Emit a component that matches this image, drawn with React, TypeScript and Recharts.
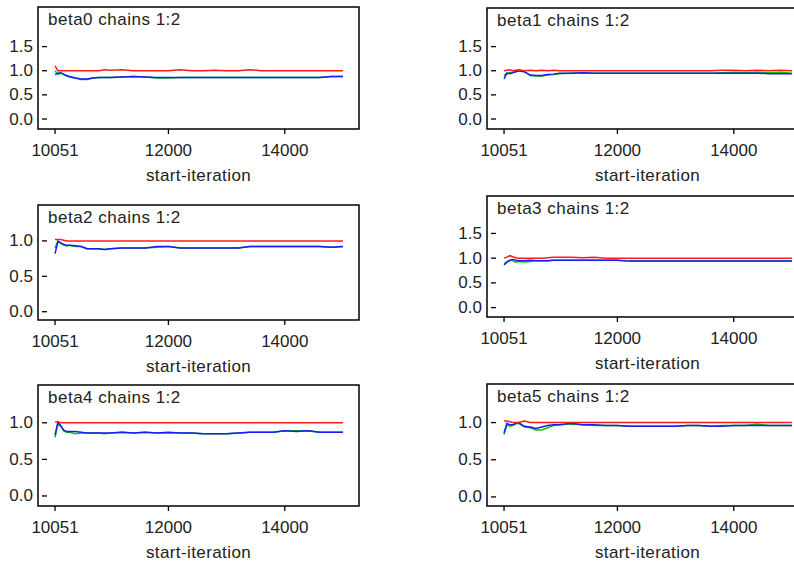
import React from "react";
import { LineChart, Line, XAxis, YAxis, ReferenceArea } from "recharts";

//#region Data

const iterations = [
  10051, 10100, 10150, 10200, 10250, 10300, 10400, 10500, 10600, 10700, 10800, 10900, 11000, 11200, 11400, 11600, 11800,
  12000, 12200, 12400, 12600, 12800, 13000, 13200, 13400, 13600, 13800, 14000, 14200, 14400, 14600, 14800, 15000,
];

const xTicks = [10051, 12000, 14000];
const yTicksTall = [0, 0.5, 1, 1.5];
const yTicksShort = [0, 0.5, 1];

const beta0Red = [1.1, 1.0, 1.0, 1.0, 1.0, 1.0, 1.0, 1.0, 1.0, 1.0, 1.0, 1.02, 1.01, 1.02, 1.0, 1.0, 1.0, 1.0, 1.02, 1.0, 1.0, 1.01, 1.0, 1.0, 1.02, 1.0, 1.0, 1.0, 1.0, 1.0, 1.0, 1.0, 1.0];
const beta0Green = [1.0, 0.92, 0.95, 0.92, 0.89, 0.87, 0.85, 0.82, 0.82, 0.85, 0.86, 0.86, 0.86, 0.87, 0.88, 0.87, 0.85, 0.85, 0.86, 0.86, 0.86, 0.86, 0.86, 0.86, 0.86, 0.86, 0.86, 0.86, 0.86, 0.86, 0.86, 0.88, 0.88];
const beta0Blue = [0.92, 0.95, 0.96, 0.93, 0.9, 0.88, 0.85, 0.83, 0.83, 0.85, 0.86, 0.86, 0.86, 0.87, 0.88, 0.87, 0.86, 0.86, 0.86, 0.86, 0.86, 0.86, 0.86, 0.86, 0.86, 0.86, 0.86, 0.86, 0.86, 0.86, 0.86, 0.88, 0.88];

const beta1Red = [1.0, 1.01, 1.02, 1.0, 1.01, 1.02, 1.0, 1.01, 1.0, 1.01, 1.0, 1.01, 1.0, 1.0, 1.0, 1.0, 1.0, 1.0, 1.0, 1.0, 1.0, 1.0, 1.0, 1.0, 1.0, 1.0, 1.01, 1.01, 1.0, 1.01, 1.0, 1.01, 1.0];
const beta1Green = [0.9, 0.95, 0.96, 0.97, 0.98, 1.0, 0.98, 0.9, 0.89, 0.89, 0.91, 0.92, 0.94, 0.95, 0.96, 0.95, 0.95, 0.95, 0.95, 0.95, 0.95, 0.95, 0.95, 0.95, 0.95, 0.95, 0.96, 0.97, 0.96, 0.97, 0.96, 0.97, 0.95];
const beta1Blue = [0.83, 0.95, 0.94, 0.96, 0.98, 1.0, 0.98, 0.91, 0.9, 0.9, 0.92, 0.93, 0.95, 0.95, 0.96, 0.95, 0.95, 0.95, 0.95, 0.95, 0.95, 0.95, 0.95, 0.95, 0.95, 0.95, 0.95, 0.95, 0.95, 0.95, 0.94, 0.94, 0.94];

const beta2Red = [1.02, 1.02, 1.02, 1.01, 1.0, 1.0, 1.0, 1.0, 1.0, 1.0, 1.0, 1.0, 1.0, 1.0, 1.0, 1.0, 1.0, 1.0, 1.0, 1.0, 1.0, 1.0, 1.0, 1.0, 1.0, 1.0, 1.0, 1.0, 1.0, 1.0, 1.0, 1.0, 1.0];
const beta2Green = [0.9, 1.0, 0.97, 0.94, 0.93, 0.94, 0.92, 0.92, 0.89, 0.89, 0.89, 0.88, 0.89, 0.9, 0.9, 0.9, 0.91, 0.92, 0.9, 0.9, 0.9, 0.9, 0.9, 0.9, 0.92, 0.92, 0.92, 0.92, 0.92, 0.92, 0.92, 0.91, 0.92];
const beta2Blue = [0.82, 0.99, 0.97, 0.95, 0.94, 0.94, 0.93, 0.92, 0.89, 0.89, 0.89, 0.88, 0.89, 0.9, 0.9, 0.9, 0.92, 0.92, 0.9, 0.9, 0.9, 0.9, 0.9, 0.9, 0.92, 0.92, 0.92, 0.92, 0.92, 0.92, 0.92, 0.91, 0.92];

const beta3Red = [1.0, 1.02, 1.05, 1.03, 1.01, 1.0, 1.0, 1.0, 1.0, 1.0, 1.01, 1.02, 1.02, 1.02, 1.01, 1.02, 1.0, 1.0, 1.0, 1.0, 1.0, 1.0, 1.0, 1.0, 1.0, 1.0, 1.0, 1.0, 1.0, 1.0, 1.0, 1.0, 1.0];
const beta3Green = [0.88, 0.93, 0.96, 0.95, 0.92, 0.93, 0.92, 0.93, 0.95, 0.95, 0.95, 0.96, 0.96, 0.96, 0.96, 0.96, 0.96, 0.96, 0.94, 0.94, 0.94, 0.94, 0.94, 0.94, 0.94, 0.94, 0.94, 0.94, 0.94, 0.94, 0.94, 0.94, 0.94];
const beta3Blue = [0.86, 0.92, 0.95, 0.97, 0.96, 0.95, 0.95, 0.96, 0.95, 0.95, 0.95, 0.96, 0.96, 0.96, 0.96, 0.96, 0.96, 0.96, 0.94, 0.94, 0.94, 0.94, 0.94, 0.94, 0.94, 0.94, 0.94, 0.94, 0.94, 0.94, 0.94, 0.94, 0.94];

const beta4Red = [1.01, 1.01, 1.0, 1.0, 1.0, 1.0, 1.0, 1.0, 1.0, 1.0, 1.0, 1.0, 1.0, 1.0, 1.0, 1.0, 1.0, 1.0, 1.0, 1.0, 1.0, 1.0, 1.0, 1.0, 1.0, 1.0, 1.0, 1.0, 1.0, 1.0, 1.0, 1.0, 1.0];
const beta4Green = [0.8, 0.98, 0.95, 0.89, 0.87, 0.87, 0.85, 0.86, 0.86, 0.86, 0.86, 0.85, 0.86, 0.87, 0.86, 0.87, 0.86, 0.86, 0.86, 0.86, 0.85, 0.85, 0.85, 0.86, 0.87, 0.87, 0.87, 0.89, 0.89, 0.89, 0.87, 0.87, 0.87];
const beta4Blue = [0.83, 1.01, 0.96, 0.9, 0.88, 0.88, 0.88, 0.87, 0.86, 0.86, 0.86, 0.86, 0.86, 0.87, 0.86, 0.87, 0.86, 0.87, 0.86, 0.86, 0.85, 0.85, 0.85, 0.86, 0.87, 0.87, 0.87, 0.89, 0.88, 0.89, 0.87, 0.87, 0.87];

const beta5Red = [1.02, 1.02, 1.01, 1.0, 1.0, 1.0, 1.02, 1.0, 1.0, 1.0, 1.0, 1.0, 1.0, 1.0, 1.0, 1.0, 1.0, 1.0, 1.0, 1.0, 1.0, 1.0, 1.0, 1.0, 1.0, 1.0, 1.0, 1.0, 1.0, 1.0, 1.0, 1.0, 1.0];
const beta5Green = [0.84, 0.97, 0.95, 0.96, 0.98, 0.99, 0.94, 0.93, 0.9, 0.9, 0.93, 0.96, 0.97, 0.98, 0.97, 0.96, 0.96, 0.96, 0.95, 0.95, 0.95, 0.95, 0.95, 0.96, 0.96, 0.95, 0.96, 0.96, 0.96, 0.98, 0.96, 0.96, 0.96];
const beta5Blue = [0.86, 0.99, 0.97, 0.97, 0.99, 1.0, 0.95, 0.94, 0.92, 0.94, 0.96, 0.97, 0.97, 0.99, 0.97, 0.97, 0.96, 0.96, 0.95, 0.95, 0.95, 0.95, 0.95, 0.96, 0.96, 0.95, 0.95, 0.96, 0.96, 0.96, 0.96, 0.96, 0.96];

//#endregion

//#region Layout

const FONT = "Arial, 'Liberation Sans', sans-serif";
const TEXT = "#222";
const Y_AXIS_W = 38;
const PLOT_W = 321;
const X_AXIS_H = 61;
const PAD = 2;
const X_DOMAIN: [number, number] = [9758, 15276];

type PanelProps = {
  title: string;
  boxLeft: number;
  boxTop: number;
  plotH: number;
  yDomain: [number, number];
  yTicks: number[];
  red: number[];
  green: number[];
  blue: number[];
};

const panels: PanelProps[] = [
  { title: "beta0 chains 1:2", boxLeft: 38, boxTop: 7, plotH: 122, yDomain: [-0.207, 2.32], yTicks: yTicksTall, red: beta0Red, green: beta0Green, blue: beta0Blue },
  { title: "beta1 chains 1:2", boxLeft: 487, boxTop: 8, plotH: 121, yDomain: [-0.207, 2.3], yTicks: yTicksTall, red: beta1Red, green: beta1Green, blue: beta1Blue },
  { title: "beta2 chains 1:2", boxLeft: 38, boxTop: 205, plotH: 115, yDomain: [-0.117, 1.507], yTicks: yTicksShort, red: beta2Red, green: beta2Green, blue: beta2Blue },
  { title: "beta3 chains 1:2", boxLeft: 487, boxTop: 196, plotH: 121, yDomain: [-0.19, 2.257], yTicks: yTicksTall, red: beta3Red, green: beta3Green, blue: beta3Blue },
  { title: "beta4 chains 1:2", boxLeft: 38, boxTop: 385, plotH: 121, yDomain: [-0.137, 1.516], yTicks: yTicksShort, red: beta4Red, green: beta4Green, blue: beta4Blue },
  { title: "beta5 chains 1:2", boxLeft: 487, boxTop: 384, plotH: 122, yDomain: [-0.122, 1.519], yTicks: yTicksShort, red: beta5Red, green: beta5Green, blue: beta5Blue },
];

//#endregion

// y ticks sit just inside the frame, labels to the left of it
const YTick = (props: any) => {
  const { y, payload } = props;
  return (
    <g>
      <text x={Y_AXIS_W - 5} y={y} textAnchor="end" dominantBaseline="central" fill={TEXT} fontSize={17} fontFamily={FONT}>
        {Number(payload.value).toFixed(1)}
      </text>
      <line x1={Y_AXIS_W + 4} x2={Y_AXIS_W + 9} y1={y} y2={y} stroke="#000" strokeWidth={1.3} />
    </g>
  );
};

const Panel = ({ title, boxLeft, boxTop, plotH, yDomain, yTicks, red, green, blue }: PanelProps) => {
  const data = iterations.map((it, i) => ({ it, red: red[i], green: green[i], blue: blue[i] }));
  const width = Y_AXIS_W + PLOT_W + PAD;
  const height = PAD + plotH + X_AXIS_H;

  return (
    <div style={{ position: "absolute", left: boxLeft - Y_AXIS_W, top: boxTop - PAD, width, height }}>
      <LineChart width={width} height={height} data={data} margin={{ top: PAD, right: PAD, left: 0, bottom: 0 }}>
        <XAxis
          type="number"
          dataKey="it"
          domain={X_DOMAIN}
          ticks={xTicks}
          allowDataOverflow
          axisLine={false}
          tickSize={5}
          tickMargin={10}
          tickLine={{ stroke: "#000", strokeWidth: 1.3 }}
          tick={{ fill: TEXT, fontSize: 17, fontFamily: FONT }}
          height={X_AXIS_H}
          label={{ value: "start-iteration", position: "insideBottom", offset: 9, fill: TEXT, fontSize: 17, fontFamily: FONT, letterSpacing: 0.4 }}
        />
        <YAxis type="number" domain={yDomain} ticks={yTicks} allowDataOverflow width={Y_AXIS_W} axisLine={false} tickLine={false} tick={YTick} />
        <ReferenceArea x1={X_DOMAIN[0]} x2={X_DOMAIN[1]} y1={yDomain[0]} y2={yDomain[1]} fill="none" stroke="#000" strokeWidth={1.5} ifOverflow="visible" />
        <Line type="linear" dataKey="green" stroke="#00c800" strokeWidth={1.5} dot={false} activeDot={false} isAnimationActive={false} />
        <Line type="linear" dataKey="blue" stroke="#1a1aff" strokeWidth={1.5} dot={false} activeDot={false} isAnimationActive={false} />
        <Line type="linear" dataKey="red" stroke="#ff1a1a" strokeWidth={1.5} dot={false} activeDot={false} isAnimationActive={false} />
      </LineChart>
      <div
        style={{
          position: "absolute",
          left: Y_AXIS_W + 10,
          top: PAD + 3.5,
          fontFamily: FONT,
          fontSize: 17,
          lineHeight: "17px",
          letterSpacing: 0.5,
          color: TEXT,
          whiteSpace: "nowrap",
        }}
      >
        {title}
      </div>
    </div>
  );
};

const App = () => {
  return (
    <div style={{ position: "absolute", left: 0, top: 0, width: 794, height: 563, overflow: "hidden", background: "#fff" }}>
      {panels.map((p) => (
        <Panel key={p.title} {...p} />
      ))}
    </div>
  );
};

export default App;
